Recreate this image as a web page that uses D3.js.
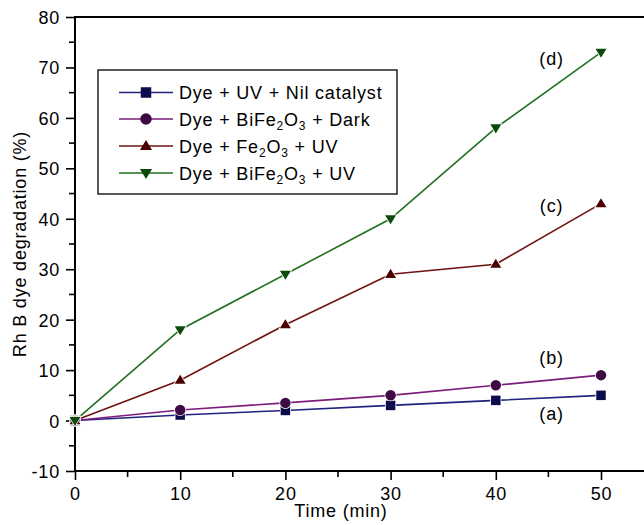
<!DOCTYPE html>
<html>
<head>
<meta charset="utf-8">
<script src="https://cdn.jsdelivr.net/npm/d3@7/dist/d3.min.js"></script>
<style>
  html, body { margin: 0; padding: 0; background: #fff; }
  svg { display: block; font-family: "Liberation Sans", Arial, Helvetica, sans-serif; }
  svg text { letter-spacing: 0.8px; }
</style>
</head>
<body>
<svg id="chart" width="644" height="525"></svg>
<script>
// Irradiation time (min)
const times = [0, 10, 20, 30, 40, 50];

// Rh B dye degradation (%) for each condition
const nilCatalyst = [0, 1.1, 2.0, 3.0, 4.0, 5.0];
const bfoDark     = [0, 2.1, 3.5, 5.0, 7.0, 9.0];
const fe2o3UV     = [0, 8.0, 19.0, 29.0, 31.0, 43.0];
const bfoUV       = [0, 18.0, 29.0, 40.0, 58.0, 73.0];

const xTicks = [0, 10, 20, 30, 40, 50];
const yTicks = [-10, 0, 10, 20, 30, 40, 50, 60, 70, 80];

const series = [
  { name: [["Dye + UV + Nil catalyst"]], values: nilCatalyst, line: "#22227e", fill: "#0c0c4c", shape: "square", tag: "(a)", tagY: 0.2 },
  { name: [["Dye + BiFe"], ["2", "sub"], ["O"], ["3", "sub"], [" + Dark"]], values: bfoDark, line: "#7c1c7c", fill: "#3e0a42", shape: "circle", tag: "(b)", tagY: 11.2 },
  { name: [["Dye + Fe"], ["2", "sub"], ["O"], ["3", "sub"], [" + UV"]], values: fe2o3UV, line: "#6e1212", fill: "#4a0000", shape: "triangle", tag: "(c)", tagY: 41.4 },
  { name: [["Dye + BiFe"], ["2", "sub"], ["O"], ["3", "sub"], [" + UV"]], values: bfoUV, line: "#1f701f", fill: "#0b4a0b", shape: "down", tag: "(d)", tagY: 70.5 }
];

const svg = d3.select("#chart");
const plotLeft = 75, plotTop = 17, plotBottom = 471;
const x = d3.scaleLinear().domain([0, 55]).range([plotLeft, plotLeft + 55 * 10.52]);
const y = d3.scaleLinear().domain([-10, 80]).range([plotBottom, plotTop]);

// Frame: top edge, left and bottom axes
svg.append("path")
  .attr("d", `M${x(55)},${plotTop}H${plotLeft}V${plotBottom}H${x(55)}`)
  .attr("fill", "none").attr("stroke", "#000").attr("stroke-width", 2);

// Minor ticks
const yMinor = d3.range(-5, 80, 10);
const xMinor = d3.range(5, 56, 10);
svg.append("g").selectAll("line").data(yMinor).join("line")
  .attr("x1", plotLeft - 6).attr("x2", plotLeft).attr("y1", d => y(d)).attr("y2", d => y(d))
  .attr("stroke", "#000").attr("stroke-width", 1.6);
svg.append("g").selectAll("line").data(xMinor).join("line")
  .attr("y1", plotBottom).attr("y2", plotBottom + 6).attr("x1", d => x(d)).attr("x2", d => x(d))
  .attr("stroke", "#000").attr("stroke-width", 1.6);

// Major axes (plain hyphen for negative labels)
const plain = d => String(d);
const yAxis = svg.append("g").attr("transform", `translate(${plotLeft},0)`)
  .call(d3.axisLeft(y).tickValues(yTicks).tickSize(9).tickPadding(6).tickFormat(plain));
const xAxis = svg.append("g").attr("transform", `translate(0,${plotBottom})`)
  .call(d3.axisBottom(x).tickValues(xTicks).tickSize(9).tickPadding(7).tickFormat(plain));
[yAxis, xAxis].forEach(g => {
  g.select(".domain").remove();
  g.selectAll(".tick line").attr("stroke", "#000").attr("stroke-width", 1.6);
  g.selectAll(".tick text").attr("fill", "#000").style("font-size", "18px")
    .style("font-family", "'Liberation Sans', Arial, sans-serif");
});
yAxis.selectAll(".tick text").attr("dy", "0.36em");

// Axis titles
svg.append("text").attr("x", 341).attr("y", 517).attr("text-anchor", "middle")
  .style("font-size", "18px").text("Time (min)");
svg.append("text").attr("transform", `translate(26,${(plotTop + plotBottom) / 2}) rotate(-90)`)
  .attr("text-anchor", "middle").style("font-size", "18px").text("Rh B dye degradation (%)");

// Marker shapes
function marker(g, shape, size, fill, halo) {
  let el;
  if (shape === "square") {
    el = g.append("rect").attr("x", -size / 2).attr("y", -size / 2).attr("width", size).attr("height", size);
  } else if (shape === "circle") {
    el = g.append("circle").attr("r", size / 2 + 0.5);
  } else if (shape === "triangle") {
    const h = size * 0.95, w = size * 1.15;
    el = g.append("path").attr("d", `M0,${-h * 0.6}L${w / 2},${h * 0.4}L${-w / 2},${h * 0.4}Z`);
  } else {
    const h = size * 0.95, w = size * 1.15;
    el = g.append("path").attr("d", `M0,${h * 0.6}L${w / 2},${-h * 0.4}L${-w / 2},${-h * 0.4}Z`);
  }
  el.attr("fill", fill);
  if (halo) el.attr("stroke", "#fff").attr("stroke-width", 1.5).attr("paint-order", "stroke");
  return el;
}

// Series lines and markers
const line = d3.line().x((d, i) => x(times[i])).y(d => y(d));
series.forEach(s => {
  svg.append("path").datum(s.values).attr("d", line)
    .attr("fill", "none").attr("stroke", s.line).attr("stroke-width", 1.6);
});
series.forEach(s => {
  s.values.forEach((v, i) => {
    const g = svg.append("g").attr("transform", `translate(${x(times[i])},${y(v)})`);
    marker(g, s.shape, 9.5, s.fill, true);
  });
  svg.append("text").attr("x", x(45.3)).attr("y", y(s.tagY)).attr("text-anchor", "middle")
    .style("font-size", "18px").text(s.tag);
});

// Legend
const lg = svg.append("g");
lg.append("rect").attr("x", 98).attr("y", 70).attr("width", 299).attr("height", 124)
  .attr("fill", "#fff").attr("stroke", "#000").attr("stroke-width", 1.3);
const rowY = [92.5, 119, 146, 173];
series.forEach((s, i) => {
  const row = lg.append("g").attr("transform", `translate(0,${rowY[i]})`);
  row.append("line").attr("x1", 119).attr("x2", 173).attr("stroke", s.line).attr("stroke-width", 1.6);
  const mg = row.append("g").attr("transform", "translate(146,0)");
  marker(mg, s.shape, 10.5, s.fill, false);
  const t = row.append("text").attr("x", 179).attr("y", 6.5).style("font-size", "18px");
  s.name.forEach(([txt, kind]) => {
    const sp = t.append("tspan").text(txt);
    if (kind === "sub") sp.style("font-size", "12px").attr("dy", 4);
    else if (t.selectAll("tspan").size() > 1) sp.attr("dy", -4);
  });
});
</script>
</body>
</html>
